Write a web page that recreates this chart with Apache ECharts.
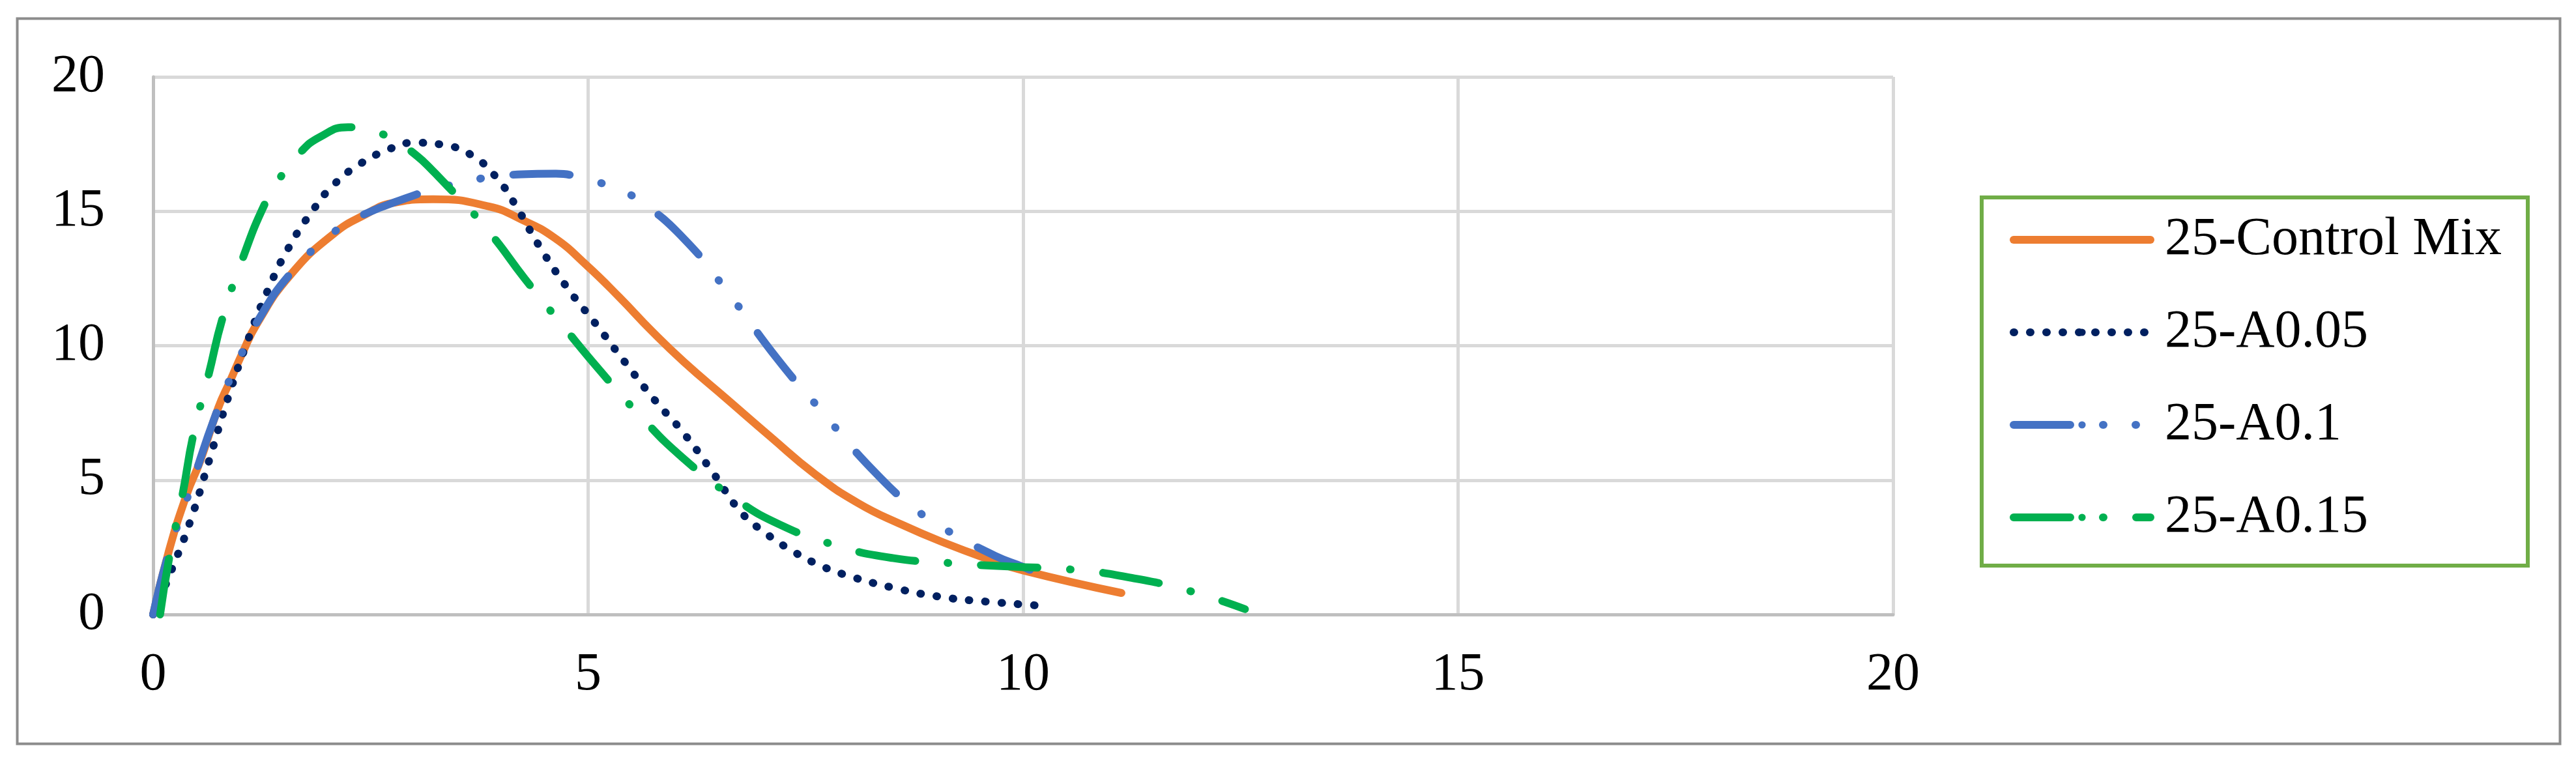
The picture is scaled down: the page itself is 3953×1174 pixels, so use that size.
<!DOCTYPE html>
<html>
<head>
<meta charset="utf-8">
<script src="https://cdn.jsdelivr.net/npm/echarts@6/dist/echarts.min.js"></script>
<style>
html,body{margin:0;padding:0;background:#fff;}
#chart{width:3953px;height:1174px;}
</style>
</head>
<body>
<div id="chart"></div>
<script>
// ---- data ----
const seriesNames = ['25-Control Mix', '25-A0.05', '25-A0.1', '25-A0.15'];
const xTicks = [0, 5, 10, 15, 20];
const yTicks = [0, 5, 10, 15, 20];

const controlX = [0, 0.18, 0.39, 0.54, 0.75, 0.88, 1.03, 1.19, 1.57, 2.07, 2.45, 2.74, 3.22, 3.86, 4.23, 4.61, 4.98, 5.36, 5.73, 6.1, 6.6, 7.1, 7.6, 8.1, 8.6, 9.1, 9.6, 10.0, 11.13];
const controlY = [0, 2.35, 4.5, 5.7, 7.7, 8.65, 9.75, 10.8, 12.6, 14.15, 14.9, 15.3, 15.45, 15.18, 14.7, 14.02, 13.0, 11.8, 10.55, 9.4, 8.0, 6.6, 5.24, 4.15, 3.35, 2.66, 2.06, 1.64, 0.8];

const a005X = [0, 0.23, 0.43, 0.65, 0.86, 1.1, 1.31, 1.55, 1.85, 2.08, 2.35, 2.67, 3.0, 3.37, 3.7, 3.96, 4.17, 4.44, 4.75, 5.09, 5.42, 5.76, 6.11, 6.44, 6.76, 7.03, 7.33, 7.65, 7.98, 8.5, 9.02, 9.57, 10.29];
const a005Y = [0, 1.8, 3.5, 5.8, 8.05, 10.3, 12.0, 13.6, 15.1, 16.0, 16.7, 17.25, 17.55, 17.45, 17.0, 16.2, 15.2, 13.7, 12.2, 10.8, 9.4, 8.0, 6.7, 5.25, 3.8, 3.05, 2.4, 1.85, 1.45, 1.0, 0.67, 0.48, 0.31];

const a01X = [0, 0.18, 0.41, 0.75, 1.03, 1.19, 1.57, 2.07, 2.37, 2.96, 3.29, 3.64, 4.0, 4.63, 4.98, 5.32, 5.63, 6.11, 6.57, 7.17, 7.64, 8.3, 8.83, 9.13, 9.68, 10.0, 10.33];
const a01Y = [0, 2.3, 4.5, 7.7, 9.8, 10.85, 12.65, 14.2, 14.8, 15.55, 15.87, 16.13, 16.33, 16.4, 16.18, 15.85, 15.3, 13.95, 12.14, 9.53, 7.73, 5.28, 3.74, 3.12, 2.18, 1.77, 1.31];

const a015X = [0.08, 0.19, 0.34, 0.46, 0.64, 0.8, 1.03, 1.28, 1.46, 1.68, 1.92, 2.24, 2.59, 2.9, 3.38, 3.87, 4.27, 4.72, 5.13, 5.61, 6.08, 6.65, 7.2, 7.87, 8.5, 9.22, 9.87, 10.6, 11.25, 11.93, 12.55];
const a015Y = [0, 2.2, 4.5, 6.65, 8.95, 11.05, 13.25, 15.25, 16.25, 17.15, 17.77, 18.13, 17.92, 17.4, 15.95, 14.2, 12.5, 10.7, 9.1, 7.35, 5.85, 4.4, 3.35, 2.55, 2.1, 1.9, 1.78, 1.66, 1.36, 0.86, 0.2];

function zip(xs, ys) { return xs.map((x, i) => [x, ys[i]]); }

const FONT = 'Liberation Serif';
const chart = echarts.init(document.getElementById('chart'), null, {renderer: 'canvas'});

const axisLabelStyle = {fontFamily: FONT, fontSize: 82, color: '#000'};

chart.setOption({
  animation: false,
  backgroundColor: '#fff',
  grid: {left: 235, top: 118, width: 2670, height: 825, containLabel: false},
  xAxis: {
    type: 'value', min: xTicks[0], max: xTicks[xTicks.length - 1], interval: xTicks[1] - xTicks[0],
    axisLine: {show: true, onZero: false, lineStyle: {color: '#BFBFBF', width: 5}},
    axisTick: {show: false},
    splitLine: {show: true, lineStyle: {color: '#D9D9D9', width: 5}},
    axisLabel: Object.assign({margin: 52}, axisLabelStyle)
  },
  yAxis: {
    type: 'value', min: yTicks[0], max: yTicks[yTicks.length - 1], interval: yTicks[1] - yTicks[0],
    axisLine: {show: true, onZero: false, lineStyle: {color: '#BFBFBF', width: 5}},
    axisTick: {show: false},
    splitLine: {show: true, lineStyle: {color: '#D9D9D9', width: 5}},
    axisLabel: Object.assign({margin: 74}, axisLabelStyle)
  },
  legend: {
    orient: 'vertical',
    left: 3084, top: 318,
    padding: 0,
    itemWidth: 210, itemHeight: 14, itemGap: 42,
    lineStyle: {width: 12},
    textStyle: {fontFamily: FONT, fontSize: 82, color: '#000', lineHeight: 100, padding: [0, 0, 0, 17]},
    data: seriesNames
  },
  graphic: [
    {type: 'rect', left: 24, top: 26, z: -1, silent: true,
     shape: {width: 3902, height: 1113}, style: {fill: 'none', stroke: '#8C8C8C', lineWidth: 4}},
    {type: 'rect', left: 3038, top: 300, z: -1, silent: true,
     shape: {width: 838, height: 565}, style: {fill: 'none', stroke: '#70AD47', lineWidth: 6}}
  ],
  series: [
    {name: seriesNames[0], type: 'line', smooth: 0.5, symbol: 'none', data: zip(controlX, controlY),
     lineStyle: {color: '#ED7D31', width: 12, cap: 'round', join: 'round'}, itemStyle: {color: '#ED7D31'}},
    {name: seriesNames[1], type: 'line', smooth: 0.5, symbol: 'none', data: zip(a005X, a005Y),
     lineStyle: {color: '#002060', width: 12, cap: 'round', join: 'round', type: [1, 24]}, itemStyle: {color: '#002060'}},
    {name: seriesNames[2], type: 'line', smooth: 0.5, symbol: 'none', data: zip(a01X, a01Y),
     lineStyle: {color: '#4472C4', width: 12, cap: 'round', join: 'round', type: [87, 50, 1, 49, 1, 50]}, itemStyle: {color: '#4472C4'}},
    {name: seriesNames[3], type: 'line', smooth: 0.5, symbol: 'none', data: zip(a015X, a015Y),
     lineStyle: {color: '#00B050', width: 12, cap: 'round', join: 'round', type: [87, 50, 1, 50]}, itemStyle: {color: '#00B050'}}
  ]
});
</script>
</body>
</html>
